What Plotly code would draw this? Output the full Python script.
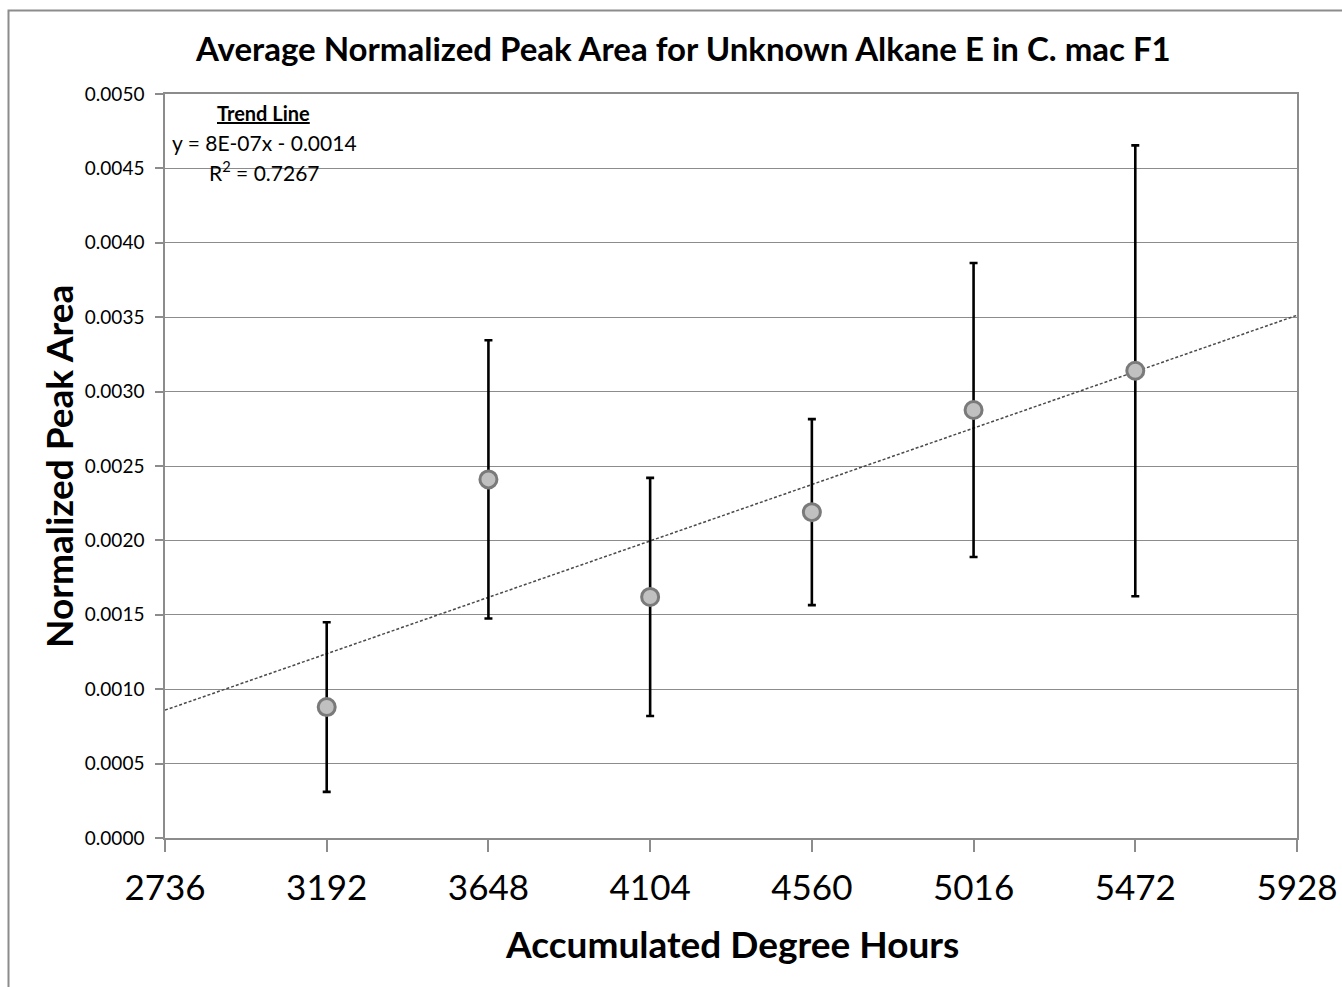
import numpy as np
import plotly.graph_objects as go

# Accumulated degree hours (x) and mean normalized peak area with error (±)
degree_hours = [3192, 3648, 4104, 4560, 5016, 5472]
peak_area = [0.00088, 0.00241, 0.00162, 0.00219, 0.002876, 0.00314]
peak_err = [0.00057, 0.000935, 0.0008, 0.000625, 0.000988, 0.001515]

x_ticks = [2736, 3192, 3648, 4104, 4560, 5016, 5472, 5928]
y_ticks = [0.0, 0.0005, 0.0010, 0.0015, 0.0020, 0.0025, 0.0030, 0.0035, 0.0040, 0.0045, 0.0050]

trend_header = "Trend Line"
trend_equation = "y = 8E-07x - 0.0014"
trend_r2 = "R<sup>2</sup> = 0.7267"

W, H = 1342, 987
L, R, T, B = 165, 45, 94, 149
PW, PH = W - L - R, H - T - B


def px(x):
    return (x - L) / PW


def py(y):
    return (H - B - y) / PH


# Least-squares linear trend through the means
slope, intercept = np.polyfit(degree_hours, peak_area, 1)
trend_x = np.array([x_ticks[0], x_ticks[-1]])
trend_y = slope * trend_x + intercept

FONT = "Lato"
GRID = "#8c8c8c"

fig = go.Figure()

fig.add_trace(go.Scatter(
    x=trend_x, y=trend_y, mode="lines",
    line=dict(color="#4a4a4a", width=1.5, dash="3px,2px"),
    hoverinfo="skip", showlegend=False,
))

fig.add_trace(go.Scatter(
    x=degree_hours, y=peak_area, mode="markers",
    marker=dict(size=17, color="#c0c0c0", line=dict(color="#7a7a7a", width=3)),
    error_y=dict(type="data", array=peak_err, visible=True,
                 color="black", thickness=2.6, width=4),
    showlegend=False,
))


def label(text, x, y, size, angle=0):
    return dict(text=text, xref="paper", yref="paper", x=px(x), y=py(y),
                xanchor="center", yanchor="middle", textangle=angle,
                showarrow=False, font=dict(size=size, family=FONT, color="black"))


fig.update_layout(
    width=W, height=H,
    margin=dict(l=L, r=R, t=T, b=B, autoexpand=False),
    paper_bgcolor="white", plot_bgcolor="white",
    font=dict(family=FONT, color="black"),
    xaxis=dict(
        range=[x_ticks[0], x_ticks[-1]], tickvals=x_ticks,
        ticktext=[str(v) for v in x_ticks],
        tickfont=dict(size=35, family=FONT),
        showgrid=False, zeroline=False, automargin=False,
        showline=True, linecolor=GRID, linewidth=1.5, mirror=True,
        ticks="outside", ticklen=12, tickcolor=GRID, tickwidth=1.5,
        ticklabelstandoff=6,
    ),
    yaxis=dict(
        range=[0, 0.005], tickvals=y_ticks,
        ticktext=[f"{v:.4f}" for v in y_ticks],
        tickfont=dict(size=19, family=FONT),
        showgrid=True, gridcolor=GRID, gridwidth=1.2,
        zeroline=False, automargin=False,
        showline=True, linecolor=GRID, linewidth=1.5, mirror=True,
        ticks="outside", ticklen=8, tickcolor=GRID, tickwidth=1.5,
        ticklabelstandoff=7,
    ),
    shapes=[dict(
        type="rect", xref="paper", yref="paper",
        x0=px(8.5), x1=px(W + 20), y0=py(H + 20), y1=py(10.5),
        line=dict(color="#8c8c8c", width=2), fillcolor="rgba(0,0,0,0)",
        layer="below",
    )],
    annotations=[
        label("<b>Average Normalized Peak Area for Unknown Alkane E in C. mac F1</b>", 683, 48, 33),
        label("<b>Accumulated Degree Hours</b>", 732, 943, 37),
        label("<b>Normalized Peak Area</b>", 58, 467, 37, angle=-90),
        label(f"<b><u>{trend_header}</u></b>", 263, 113, 20),
        label(trend_equation, 264, 142, 21),
        label(trend_r2, 264, 171, 21),
    ],
)

fig.write_html("out.html")
